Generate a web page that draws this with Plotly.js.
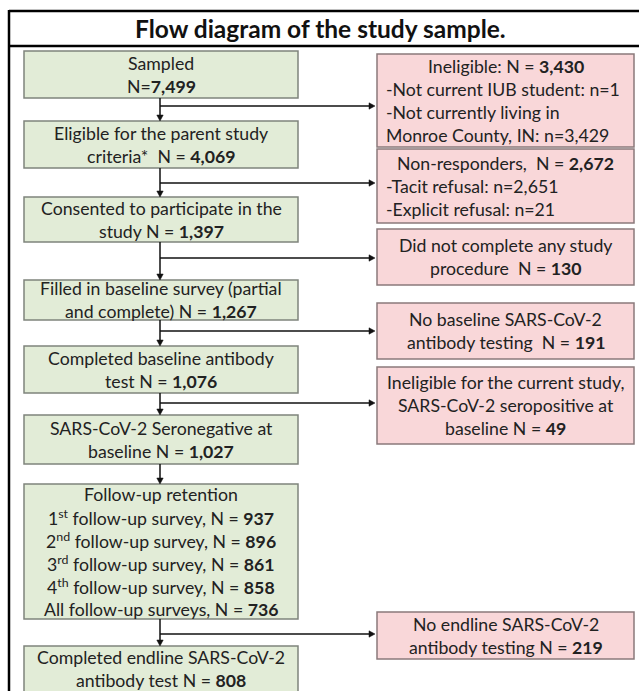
<!DOCTYPE html>
<html>
<head>
<meta charset="utf-8">
<script src="https://cdn.plot.ly/plotly-3.0.1.min.js"></script>
<style>html,body{margin:0;padding:0;background:#fff;}#chart{width:639px;height:691px;}</style>
</head>
<body>
<div id="chart"></div>
<script>
// ---------- DATA ----------
const chartTitle = "Flow diagram of the study sample.";
const mainText = [
  ["Sampled", "N={n}"],
  ["Eligible for the parent study", "criteria*  N = {n}"],
  ["Consented to participate in the", "study N = {n}"],
  ["Filled in baseline survey (partial", "and complete) N = {n}"],
  ["Completed baseline antibody", "test N = {n}"],
  ["SARS-CoV-2 Seronegative at", "baseline N = {n}"],
  ["Follow-up retention"],
  ["Completed endline SARS-CoV-2", "antibody test N = {n}"]
];
const mainN = [7499, 4069, 1397, 1267, 1076, 1027, null, 808];
const followUpLabels = ["1<sup>st</sup> follow-up survey", "2<sup>nd</sup> follow-up survey",
  "3<sup>rd</sup> follow-up survey", "4<sup>th</sup> follow-up survey", "All follow-up surveys"];
const followUpN = [937, 896, 861, 858, 736];
const exclText = [
  ["Ineligible: N = {n}"],
  ["Non-responders,  N = {n}"],
  ["Did not complete any study", "procedure  N = {n}"],
  ["No baseline SARS-CoV-2", "antibody testing  N = {n}"],
  ["Ineligible for the current study,", "SARS-CoV-2 seropositive at", "baseline N = {n}"],
  ["No endline SARS-CoV-2", "antibody testing N = {n}"]
];
const exclN = [3430, 2672, 130, 191, 49, 219];
const exclDetails = [
  ["-Not current IUB student: n={d0}", "-Not currently living in", "Monroe County, IN: n={d1}"],
  ["-Tacit refusal: n={d0}", "-Explicit refusal: n={d1}"],
  [], [], [], []
];
const exclDetailN = [[1, 3429], [2651, 21], [], [], [], []];
const exclFrom = [0, 1, 2, 3, 4, 6];   // main step each exclusion branches from

// ---------- LAYOUT (positions / styles) ----------
const W = 639, H = 691;
const mainX = [24, 298], arrowX = 160;
const mainY = [[51,98],[121,168],[197,242],[280,320],[346,393],[415,464],[484,619],[646,697]];
const exclX = [377, 634];
const exclY = [[54,147],[149,223],[229,285],[303,359],[367,444],[612,659]];
const branchY = [106, 183, 258, 331, 403, 634];
const LH = 23;
const FONT = "Lato, 'Open Sans', sans-serif";
const fs = 17.7;
const txtColor = "#222222";
const greenFill = "#e2ecd7", greenLine = "#7f847c";
const pinkFill = "#f9d7d9", pinkLine = "#8a7a7b";
const AL = 6, AW = 3.2; // arrowhead length / half-width

const fmt = n => n.toLocaleString('en-US');
const shapes = [], ann = [];

// frame
shapes.push({type:'line', x0:9, x1:W+5, y0:11, y1:11, line:{color:'#000', width:2.5}});
shapes.push({type:'line', x0:9, x1:W+5, y0:46, y1:46, line:{color:'#000', width:2.5}});
shapes.push({type:'line', x0:9, x1:9, y0:10, y1:H+5, line:{color:'#000', width:2.5}});
ann.push({x:320, y:28.5, text:"<b>"+chartTitle+"</b>", showarrow:false,
  font:{family:FONT, size:24.5, color:'#111'}, xanchor:'center', yanchor:'middle'});

function addLines(lines, cx, yc, anchor) {
  const n = lines.length;
  lines.forEach((t, i) => {
    ann.push({x:cx, y:yc + (i - (n-1)/2) * LH, text:t, showarrow:false,
      font:{family:FONT, size:fs, color:txtColor}, xanchor:anchor || 'center', yanchor:'middle'});
  });
}
function downArrow(x, yA, yB) {
  shapes.push({type:'line', x0:x, x1:x, y0:yA, y1:yB - AL + 1, line:{color:'#111', width:1.5}});
  shapes.push({type:'path', path:`M ${x-AW},${yB-AL} L ${x+AW},${yB-AL} L ${x},${yB} Z`,
    fillcolor:'#111', line:{color:'#111', width:0.5}});
}
function rightArrow(y, xA, xB) {
  shapes.push({type:'line', x0:xA, x1:xB - AL + 1, y0:y, y1:y, line:{color:'#111', width:1.5}});
  shapes.push({type:'path', path:`M ${xB-AL},${y-AW} L ${xB-AL},${y+AW} L ${xB},${y} Z`,
    fillcolor:'#111', line:{color:'#111', width:0.5}});
}

// main boxes
mainText.forEach((lines, k) => {
  const [y0, y1] = mainY[k];
  shapes.push({type:'rect', x0:mainX[0], x1:mainX[1], y0:y0, y1:y1,
    fillcolor:greenFill, line:{color:greenLine, width:1.5}, layer:'below'});
  let L = lines.map(t => t.replace("{n}", mainN[k] == null ? "" : "<b>" + fmt(mainN[k]) + "</b>"));
  if (k === 6) L = L.concat(followUpLabels.map((l, i) => l + ", N = <b>" + fmt(followUpN[i]) + "</b>"));
  const cx = (mainX[0] + mainX[1]) / 2;
  const yc = k === 7 ? 669 : (y0 + y1) / 2;
  addLines(L, cx, yc);
  if (k < mainText.length - 1) downArrow(arrowX, y1, mainY[k+1][0]);
});

// exclusion boxes
exclText.forEach((lines, k) => {
  const [y0, y1] = exclY[k];
  shapes.push({type:'rect', x0:exclX[0], x1:exclX[1], y0:y0, y1:y1,
    fillcolor:pinkFill, line:{color:pinkLine, width:1.5}, layer:'below'});
  const head = lines.map(t => t.replace("{n}", "<b>" + fmt(exclN[k]) + "</b>"));
  const det = exclDetails[k].map(t => t.replace("{d0}", exclDetailN[k][0] != null ? fmt(exclDetailN[k][0]) : "")
                                      .replace("{d1}", exclDetailN[k][1] != null ? fmt(exclDetailN[k][1]) : ""));
  const total = head.length + det.length;
  const yc = (y0 + y1) / 2;
  const cx = (exclX[0] + exclX[1]) / 2;
  head.forEach((t, i) => {
    ann.push({x:cx, y:yc + (i - (total-1)/2) * LH, text:t, showarrow:false,
      font:{family:FONT, size:fs, color:txtColor}, xanchor:'center', yanchor:'middle'});
  });
  det.forEach((t, j) => {
    const i = head.length + j;
    ann.push({x:exclX[0] + 7, y:yc + (i - (total-1)/2) * LH, text:t, showarrow:false,
      font:{family:FONT, size:fs, color:txtColor}, xanchor:'left', yanchor:'middle'});
  });
  rightArrow(branchY[k], arrowX, exclX[0] - 2);
});

const layout = {
  width:W, height:H, margin:{l:0, r:0, t:0, b:0},
  paper_bgcolor:'#fff', plot_bgcolor:'#fff', showlegend:false,
  xaxis:{range:[0, W], visible:false, fixedrange:true},
  yaxis:{range:[H, 0], visible:false, fixedrange:true},
  shapes:shapes, annotations:ann
};
Plotly.newPlot('chart', [{x:[0], y:[0], mode:'markers', marker:{opacity:0}, hoverinfo:'skip'}], layout,
  {displayModeBar:false, staticPlot:true});
</script>
</body>
</html>
